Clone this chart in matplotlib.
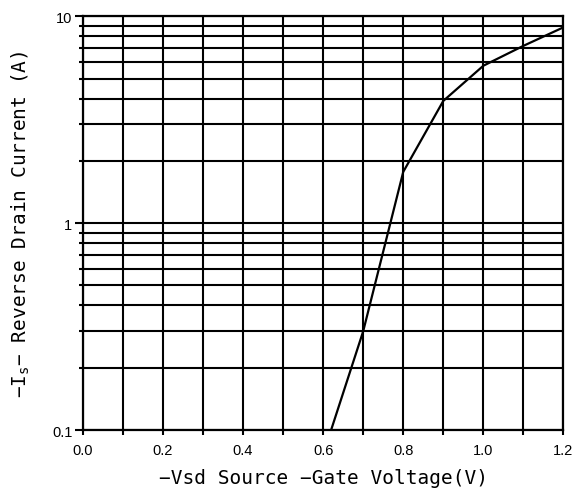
import matplotlib
matplotlib.use("Agg")
import matplotlib.pyplot as plt
from matplotlib.ticker import FixedLocator, FixedFormatter, NullFormatter

vsd = [0.62, 0.70, 0.80, 0.90, 1.00, 1.10, 1.20]
current = [0.10, 0.30, 1.77, 3.9, 5.77, 7.2, 8.85]
xticks = [0.0, 0.2, 0.4, 0.6, 0.8, 1.0, 1.2]
xtick_labels = ["0.0", "0.2", "0.4", "0.6", "0.8", "1.0", "1.2"]
yticks = [0.1, 1, 10]
ytick_labels = ["0.1", "1", "10"]

plt.rcParams['font.family'] = ['Liberation Sans', 'DejaVu Sans']
plt.rcParams['mathtext.fontset'] = 'custom'
plt.rcParams['mathtext.rm'] = 'DejaVu Sans Mono'

fig = plt.figure(figsize=(5.74, 5.02), dpi=100)
ax = fig.add_axes([0.1441, 0.1414, 0.8376, 0.8241])

ax.set_yscale('log')
ax.set_xlim(0, 1.2)
ax.set_ylim(0.1, 10)

minor_y = [m * 10.0**e for e in (-1, 0) for m in range(2, 10)]
ax.yaxis.set_major_locator(FixedLocator(yticks))
ax.yaxis.set_major_formatter(FixedFormatter(ytick_labels))
ax.yaxis.set_minor_locator(FixedLocator(minor_y))
ax.yaxis.set_minor_formatter(NullFormatter())
ax.xaxis.set_major_locator(FixedLocator(xticks))
ax.xaxis.set_major_formatter(FixedFormatter(xtick_labels))
ax.xaxis.set_minor_locator(FixedLocator([i / 10 for i in range(13)]))

ax.grid(True, which='both', color='black', linewidth=1.5)
ax.set_axisbelow(True)

ax.plot(vsd, current, color='black', linewidth=1.6, zorder=3)

for s in ax.spines.values():
    s.set_linewidth(1.6)
    s.set_color('black')

ax.tick_params(axis='y', which='major', direction='out', length=5.5, width=1.5,
               labelsize=10.5, pad=2)
ax.tick_params(axis='y', which='minor', direction='out', length=3, width=1.5)
ax.tick_params(axis='x', which='major', direction='out', length=3.5, width=1.5,
               labelsize=10.5, pad=6)
ax.tick_params(axis='x', which='minor', direction='out', length=3.5, width=1.5)

ax.set_xlabel("−Vsd Source −Gate Voltage(V)", fontsize=14,
              family=['DejaVu Sans Mono'], labelpad=8)
ax.set_ylabel("−I$_\\mathregular{s}$− Reverse Drain Current (A)", fontsize=14,
              family=['DejaVu Sans Mono'], labelpad=14)

fig.savefig("out.png", dpi=100)
